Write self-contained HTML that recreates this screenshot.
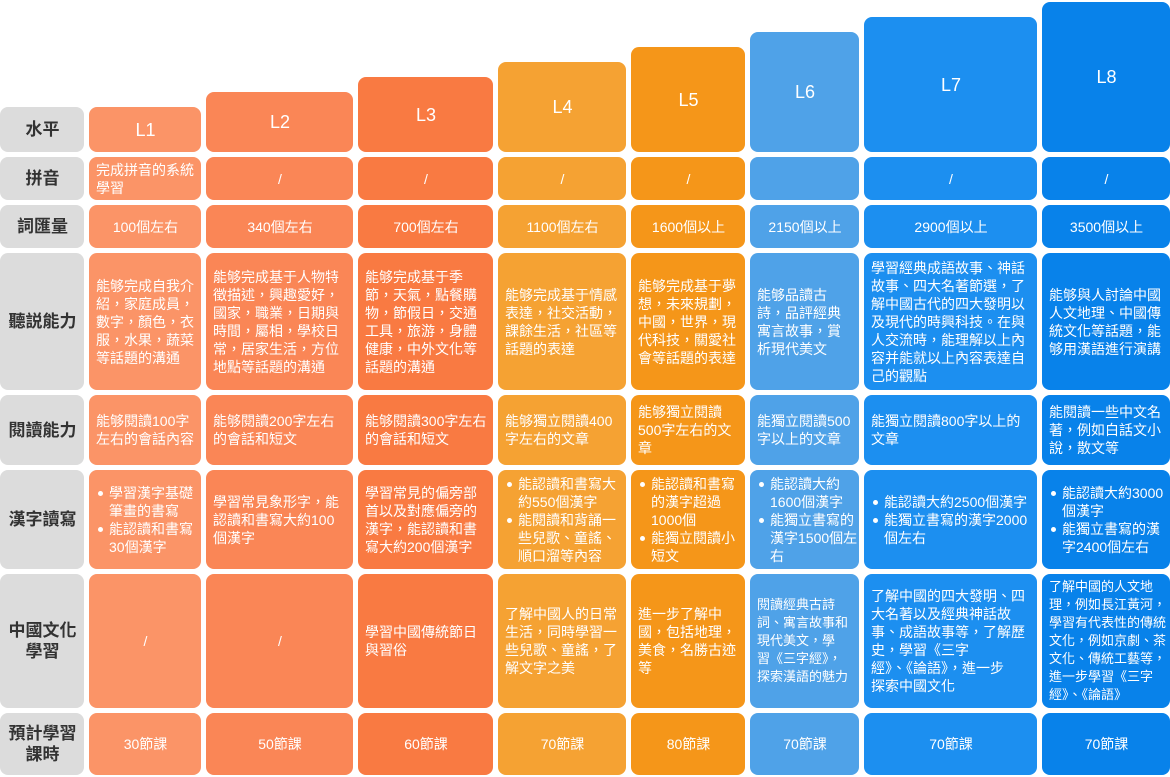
<!DOCTYPE html>
<html><head><meta charset="utf-8"><style>
*{margin:0;padding:0;box-sizing:border-box}
body{width:1170px;height:777px;background:#fff;position:relative;overflow:hidden;font-family:"Liberation Sans","Noto Sans CJK TC",sans-serif}
.c{position:absolute;border-radius:8px;color:#fff;font-size:14px;line-height:18px;display:flex;align-items:center;padding:0 6px 0 7px;text-align:left;overflow:hidden}
.m{justify-content:center;text-align:center}
.h{font-size:18px;justify-content:center}
.nw{white-space:nowrap}
.lb{background:#dcdcdc;color:#333;font-weight:bold;font-size:17px;justify-content:center;text-align:center;line-height:21px;left:0;width:84px}
.c1{background:#fb9467}.c2{background:#fa8656}.c3{background:#f97a42}.c4{background:#f5a233}
.c5{background:#f59619}.c6{background:#4fa2e8}.c7{background:#1c8ff0}.c8{background:#0882ea}
ul{list-style:none}
li{position:relative;padding-left:13px}
li:before{content:"";position:absolute;left:2px;top:7px;width:5px;height:5px;border-radius:50%;background:#fff}
</style></head><body>
<div class="c lb" style="top:107px;height:45px">水平</div>
<div class="c lb" style="top:157px;height:43px">拼音</div>
<div class="c lb" style="top:205px;height:43px">詞匯量</div>
<div class="c lb" style="top:253px;height:137px">聽説能力</div>
<div class="c lb" style="top:395px;height:70px">閱讀能力</div>
<div class="c lb" style="top:470px;height:99px">漢字讀寫</div>
<div class="c lb" style="top:574px;height:134px">中國文化<br>學習</div>
<div class="c lb" style="top:713px;height:62px">預計學習<br>課時</div>

<div class="c h c1" style="left:89px;width:112px;top:107px;height:45px">L1</div>
<div class="c h c2" style="left:206px;width:147px;top:92px;height:60px">L2</div>
<div class="c h c3" style="left:358px;width:135px;top:77px;height:75px">L3</div>
<div class="c h c4" style="left:498px;width:128px;top:62px;height:90px">L4</div>
<div class="c h c5" style="left:631px;width:114px;top:47px;height:105px">L5</div>
<div class="c h c6" style="left:750px;width:109px;top:32px;height:120px">L6</div>
<div class="c h c7" style="left:864px;width:173px;top:17px;height:135px">L7</div>
<div class="c h c8" style="left:1042px;width:128px;top:2px;height:150px">L8</div>

<div class="c c1" style="left:89px;width:112px;top:157px;height:43px">完成拼音的系統學習</div>
<div class="c m c2" style="left:206px;width:147px;top:157px;height:43px">/</div>
<div class="c m c3" style="left:358px;width:135px;top:157px;height:43px">/</div>
<div class="c m c4" style="left:498px;width:128px;top:157px;height:43px">/</div>
<div class="c m c5" style="left:631px;width:114px;top:157px;height:43px">/</div>
<div class="c m c6" style="left:750px;width:109px;top:157px;height:43px"></div>
<div class="c m c7" style="left:864px;width:173px;top:157px;height:43px">/</div>
<div class="c m c8" style="left:1042px;width:128px;top:157px;height:43px">/</div>

<div class="c m c1" style="left:89px;width:112px;top:205px;height:43px">100個左右</div>
<div class="c m c2" style="left:206px;width:147px;top:205px;height:43px">340個左右</div>
<div class="c m c3" style="left:358px;width:135px;top:205px;height:43px">700個左右</div>
<div class="c m c4" style="left:498px;width:128px;top:205px;height:43px">1100個左右</div>
<div class="c m c5" style="left:631px;width:114px;top:205px;height:43px">1600個以上</div>
<div class="c m c6" style="left:750px;width:109px;top:205px;height:43px">2150個以上</div>
<div class="c m c7" style="left:864px;width:173px;top:205px;height:43px">2900個以上</div>
<div class="c m c8" style="left:1042px;width:128px;top:205px;height:43px">3500個以上</div>

<div class="c c1" style="left:89px;width:112px;top:253px;height:137px">能够完成自我介紹，家庭成員，數字，顏色，衣服，水果，蔬菜等話題的溝通</div>
<div class="c c2" style="left:206px;width:147px;top:253px;height:137px">能够完成基于人物特徵描述，興趣愛好，國家，職業，日期與時間，屬相，學校日常，居家生活，方位地點等話題的溝通</div>
<div class="c c3" style="left:358px;width:135px;top:253px;height:137px">能够完成基于季節，天氣，點餐購物，節假日，交通工具，旅游，身體健康，中外文化等話題的溝通</div>
<div class="c c4" style="left:498px;width:128px;top:253px;height:137px">能够完成基于情感表達，社交活動，課餘生活，社區等話題的表達</div>
<div class="c c5" style="left:631px;width:114px;top:253px;height:137px">能够完成基于夢想，未來規劃，中國，世界，現代科技，關愛社會等話題的表達</div>
<div class="c c6" style="left:750px;width:109px;top:253px;height:137px">能够品讀古詩，品評經典寓言故事，賞析現代美文</div>
<div class="c c7" style="left:864px;width:173px;top:253px;height:137px">學習經典成語故事、神話故事、四大名著節選，了解中國古代的四大發明以及現代的時興科技。在與人交流時，能理解以上內容并能就以上內容表達自己的觀點</div>
<div class="c c8" style="left:1042px;width:128px;top:253px;height:137px">能够與人討論中國人文地理、中國傳統文化等話題，能够用漢語進行演講</div>

<div class="c c1" style="left:89px;width:112px;top:395px;height:70px">能够閱讀100字左右的會話內容</div>
<div class="c c2" style="left:206px;width:147px;top:395px;height:70px">能够閱讀200字左右的會話和短文</div>
<div class="c c3" style="left:358px;width:135px;top:395px;height:70px">能够閱讀300字左右的會話和短文</div>
<div class="c c4" style="left:498px;width:128px;top:395px;height:70px">能够獨立閱讀400字左右的文章</div>
<div class="c c5" style="left:631px;width:114px;top:395px;height:70px">能够獨立閱讀500字左右的文章</div>
<div class="c c6" style="left:750px;width:109px;top:395px;height:70px">能獨立閱讀500字以上的文章</div>
<div class="c c7" style="left:864px;width:173px;top:395px;height:70px">能獨立閱讀800字以上的文章</div>
<div class="c c8" style="left:1042px;width:128px;top:395px;height:70px">能閱讀一些中文名著，例如白話文小說，散文等</div>

<div class="c c1" style="left:89px;width:112px;top:470px;height:99px"><ul><li>學習漢字基礎筆畫的書寫</li><li>能認讀和書寫30個漢字</li></ul></div>
<div class="c c2" style="left:206px;width:147px;top:470px;height:99px">學習常見象形字，能認讀和書寫大約100個漢字</div>
<div class="c c3" style="left:358px;width:135px;top:470px;height:99px">學習常見的偏旁部首以及對應偏旁的漢字，能認讀和書寫大約200個漢字</div>
<div class="c c4" style="left:498px;width:128px;top:470px;height:99px"><ul><li>能認讀和書寫大約550個漢字</li><li>能閱讀和背誦一些兒歌、童謠、順口溜等內容</li></ul></div>
<div class="c c5" style="left:631px;width:114px;top:470px;height:99px"><ul><li>能認讀和書寫的漢字超過1000個</li><li>能獨立閱讀小短文</li></ul></div>
<div class="c c6 nw" style="left:750px;width:109px;top:470px;height:99px"><ul><li>能認讀大約<br>1600個漢字</li><li>能獨立書寫的<br>漢字1500個左<br>右</li></ul></div>
<div class="c c7" style="left:864px;width:173px;top:470px;height:99px"><ul><li>能認讀大約2500個漢字</li><li>能獨立書寫的漢字2000個左右</li></ul></div>
<div class="c c8" style="left:1042px;width:128px;top:470px;height:99px"><ul><li>能認讀大約3000個漢字</li><li>能獨立書寫的漢字2400個左右</li></ul></div>

<div class="c m c1" style="left:89px;width:112px;top:574px;height:134px">/</div>
<div class="c m c2" style="left:206px;width:147px;top:574px;height:134px">/</div>
<div class="c c3" style="left:358px;width:135px;top:574px;height:134px">學習中國傳統節日與習俗</div>
<div class="c c4" style="left:498px;width:128px;top:574px;height:134px">了解中國人的日常生活，同時學習一些兒歌、童謠，了解文字之美</div>
<div class="c c5" style="left:631px;width:114px;top:574px;height:134px">進一步了解中國，包括地理，美食，名勝古迹等</div>
<div class="c c6 nw" style="left:750px;width:109px;top:574px;height:134px;font-size:13px">閱讀經典古詩<br>詞、寓言故事和<br>現代美文，學<br>習《三字經》，<br>探索漢語的魅力</div>
<div class="c c7 nw" style="left:864px;width:173px;top:574px;height:134px">了解中國的四大發明、四<br>大名著以及經典神話故<br>事、成語故事等，了解歷<br>史，學習《三字<br>經》、《論語》，進一步<br>探索中國文化</div>
<div class="c c8 nw" style="left:1042px;width:128px;top:574px;height:134px;font-size:13px">了解中國的人文地<br>理，例如長江黃河，<br>學習有代表性的傳統<br>文化，例如京劇、茶<br>文化、傳統工藝等，<br>進一步學習《三字<br>經》、《論語》</div>

<div class="c m c1" style="left:89px;width:112px;top:713px;height:62px">30節課</div>
<div class="c m c2" style="left:206px;width:147px;top:713px;height:62px">50節課</div>
<div class="c m c3" style="left:358px;width:135px;top:713px;height:62px">60節課</div>
<div class="c m c4" style="left:498px;width:128px;top:713px;height:62px">70節課</div>
<div class="c m c5" style="left:631px;width:114px;top:713px;height:62px">80節課</div>
<div class="c m c6" style="left:750px;width:109px;top:713px;height:62px">70節課</div>
<div class="c m c7" style="left:864px;width:173px;top:713px;height:62px">70節課</div>
<div class="c m c8" style="left:1042px;width:128px;top:713px;height:62px">70節課</div>
</body></html>
